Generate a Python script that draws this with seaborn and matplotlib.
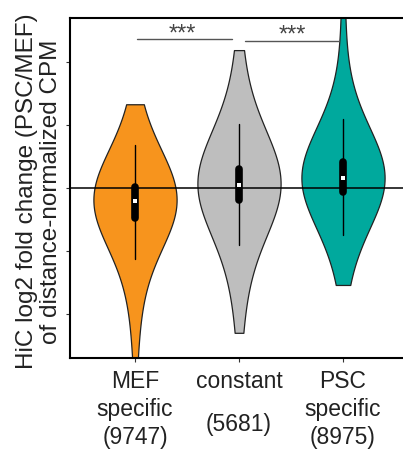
import numpy as np
import pandas as pd
import matplotlib
matplotlib.use("Agg")
import matplotlib.pyplot as plt
import seaborn as sns

# ---------------- data ----------------
categories = ["MEF specific", "constant", "PSC specific"]
tick_names = ["MEF\nspecific", "constant", "PSC\nspecific"]
counts = [9747, 5681, 8975]
colors = ["#F7941D", "#BEBEBE", "#00A99D"]

mef_values = [-2.70, -1.95, -1.60, -1.35, -1.13, -0.95, -0.80, -0.68, -0.58, -0.50,
              -0.46, -0.44, -0.42, -0.40, -0.37, -0.34, -0.31, -0.28, -0.25, -0.22,
              -0.19, -0.16, -0.13, -0.11, -0.09, -0.07, -0.05, -0.03, -0.02, 0.00,
              0.05, 0.12, 0.20, 0.30, 0.40, 0.50, 0.60, 0.68, 0.95, 1.33]
constant_values = [-2.30, -1.75, -1.40, -1.15, -0.91, -0.72, -0.55, -0.40, -0.30, -0.22,
                   -0.19, -0.16, -0.13, -0.10, -0.07, -0.04, -0.01, 0.02, 0.04, 0.05,
                   0.06, 0.08, 0.10, 0.12, 0.15, 0.18, 0.21, 0.24, 0.27, 0.29,
                   0.33, 0.42, 0.52, 0.63, 0.75, 0.88, 1.01, 1.30, 1.70, 2.19]
psc_values = [-1.54, -1.10, -0.90, -0.75, -0.55, -0.40, -0.28, -0.20, -0.13, -0.08,
              -0.06, -0.03, 0.00, 0.03, 0.06, 0.08, 0.10, 0.12, 0.14, 0.15,
              0.17, 0.19, 0.21, 0.23, 0.26, 0.29, 0.32, 0.35, 0.38, 0.40,
              0.44, 0.52, 0.62, 0.74, 0.86, 0.98, 1.09, 1.40, 1.90, 3.00]
y_ticks = [-2, -1, 0, 1, 2]
significance = ["***", "***"]

# ---------------- build table ----------------
df = pd.DataFrame({
    "group": [categories[0]] * len(mef_values)
             + [categories[1]] * len(constant_values)
             + [categories[2]] * len(psc_values),
    "value": mef_values + constant_values + psc_values,
})

sns.set_style("ticks")
plt.rcParams["font.family"] = ["Liberation Sans", "DejaVu Sans"]

fig = plt.figure(figsize=(4.03, 4.55), dpi=100)
ax = fig.add_axes([70 / 403, 97 / 455, 338 / 403, 340 / 455])

sns.violinplot(data=df, x="group", y="value", hue="group", order=categories,
               hue_order=categories, palette=colors, legend=False, saturation=1,
               cut=0, density_norm="width", bw_method=0.9, width=0.8,
               inner="box", linewidth=0.9, linecolor="#222222",
               inner_kws=dict(box_width=5.5, whis_width=1.0, color="black"),
               ax=ax)

# median marker: small white square as in the reference
for ln in ax.lines:
    if ln.get_marker() not in (None, "None", ""):
        ln.set_marker("s")
        ln.set_markersize(2.2)
        ln.set_markeredgewidth(0)
        ln.set_markerfacecolor("white")

ax.axhline(0, color="black", lw=1.1, zorder=1.5)

ax.set_xlim(-0.625, 2.625)
ax.set_ylim(-2.7, 2.7)
ax.set_yticks(y_ticks)
ax.set_yticklabels([])
ax.set_xticks(range(len(categories)))
labels = []
for name, n in zip(tick_names, counts):
    labels.append(f"{name}\n({n})")
ax.set_xticklabels(labels, fontsize=16.5, color="#222222")
for lab in ax.get_xticklabels():
    if "constant" in lab.get_text():
        lab.set_linespacing(2.1)
    else:
        lab.set_linespacing(1.27)
ax.tick_params(axis="both", direction="out", length=3, width=0.8, color="#333333")
ax.tick_params(axis="x", pad=6)
ax.set_xlabel("")
ax.set_ylabel("HiC log2 fold change (PSC/MEF)\nof distance-normalized CPM",
              fontsize=17.5, color="#222222", linespacing=1.12)
ax.yaxis.set_label_coords(-8 / 338, 0.49)

for side in ["top", "left", "bottom"]:
    ax.spines[side].set_visible(True)
    ax.spines[side].set_linewidth(1.5)
    ax.spines[side].set_color("black")
ax.spines["right"].set_visible(False)

# significance brackets
ax.plot([0.02, 0.93], [2.365, 2.365], color="#555555", lw=1.0)
ax.plot([1.06, 1.96], [2.33, 2.33], color="#555555", lw=1.0)
ax.text(0.46, 2.27, significance[0], ha="center", va="bottom", fontsize=17, color="#444444")
ax.text(1.51, 2.24, significance[1], ha="center", va="bottom", fontsize=17, color="#444444")

fig.savefig("out.png", dpi=100)
